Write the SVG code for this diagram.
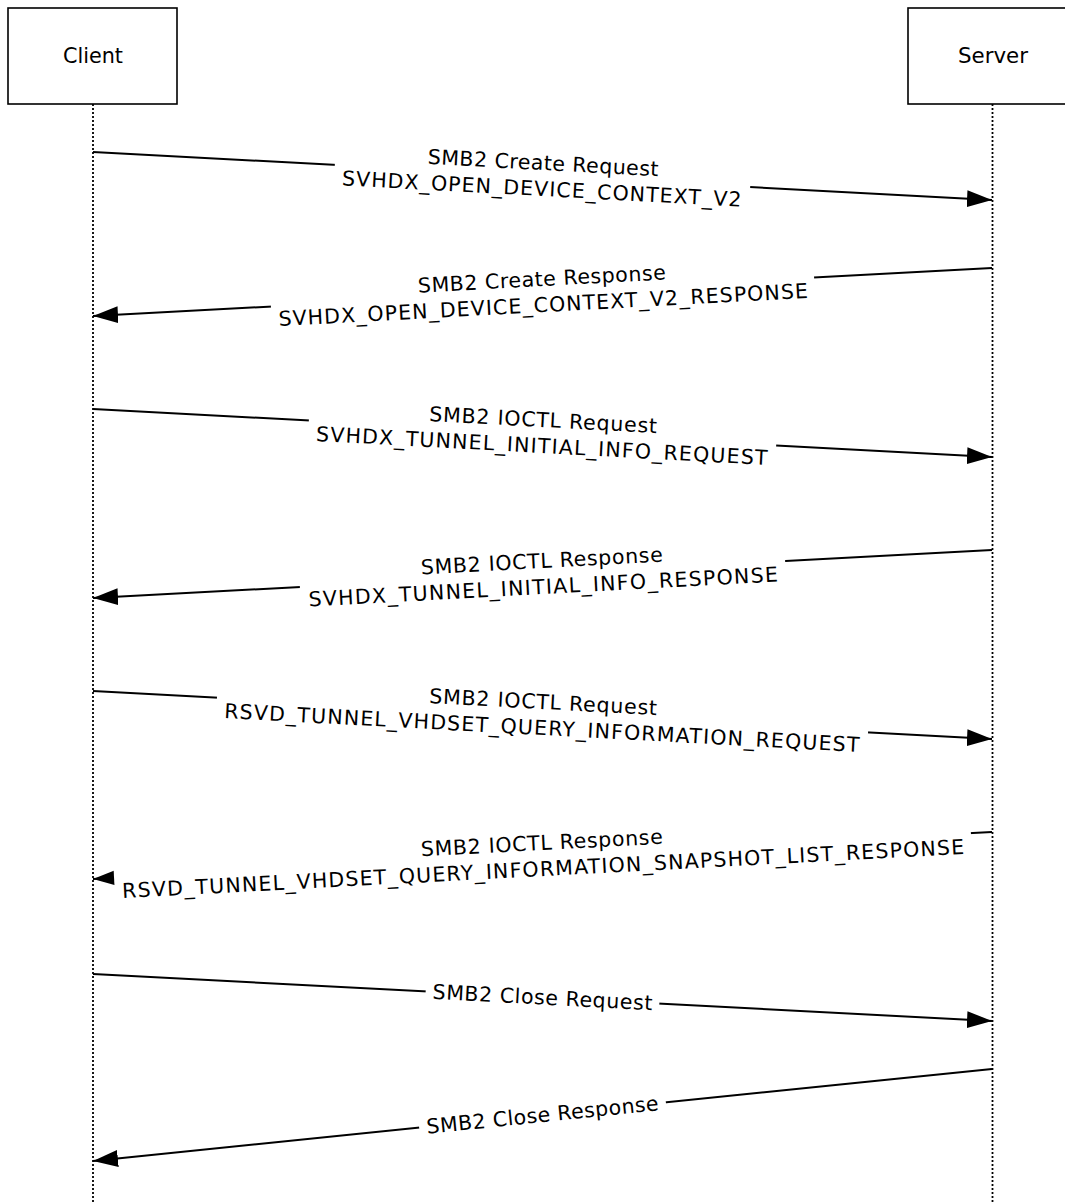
<svg xmlns="http://www.w3.org/2000/svg" width="1065" height="1203" viewBox="0 0 1065 1203">
<defs>
<style>
.box{fill:#fff;stroke:#000;stroke-width:1.6}
.life{stroke:#000;stroke-width:1.8;stroke-dasharray:2,2;fill:none}
.msg{stroke:#000;stroke-width:2;fill:none}
.t{font-family:"DejaVu Sans","Verdana",sans-serif;font-size:20.5px;fill:#000;text-anchor:middle}
.n{font-family:"DejaVu Sans","Verdana",sans-serif;font-size:21px;fill:#000;text-anchor:middle}
.bg{fill:#fff}
</style>
<marker id="ah" viewBox="0 0 25 17" refX="25" refY="8.5" markerWidth="25" markerHeight="17" markerUnits="userSpaceOnUse" orient="auto">
<path d="M0,0 L25,8.5 L0,17 Z" fill="#000"/>
</marker>
</defs>
<g id="client">
<rect class="box" x="8" y="8" width="169" height="96"/>
<text class="n" x="93" y="63" textLength="60" lengthAdjust="spacingAndGlyphs">Client</text>
</g>
<g id="server">
<rect class="box" x="908" y="8" width="170" height="96"/>
<text class="n" x="993" y="63" textLength="70" lengthAdjust="spacingAndGlyphs">Server</text>
</g>
<g id="lifelines">
<line class="life" x1="93" y1="104" x2="93" y2="1203"/>
<line class="life" x1="992.5" y1="104" x2="992.5" y2="1203"/>
</g>
<g id="connectors">
<line class="msg" x1="93" y1="152" x2="992" y2="200" marker-end="url(#ah)"/>
<line class="msg" x1="992" y1="268" x2="93" y2="316" marker-end="url(#ah)"/>
<line class="msg" x1="93" y1="409" x2="992" y2="457" marker-end="url(#ah)"/>
<line class="msg" x1="992" y1="550" x2="93" y2="598" marker-end="url(#ah)"/>
<line class="msg" x1="93" y1="691" x2="992" y2="739" marker-end="url(#ah)"/>
<line class="msg" x1="992" y1="832" x2="93" y2="879" marker-end="url(#ah)"/>
<line class="msg" x1="93" y1="974" x2="992" y2="1021" marker-end="url(#ah)"/>
<line class="msg" x1="992" y1="1069" x2="93" y2="1161" marker-end="url(#ah)"/>
</g>
<g id="labels">
<g transform="translate(542.5,176) rotate(3.06)">
<rect class="bg" x="-208" y="-23" width="416" height="48"/>
<text class="t" x="0" y="-6" textLength="231" lengthAdjust="spacing">SMB2 Create Request</text>
<text class="t" x="0" y="20" textLength="400" lengthAdjust="spacing">SVHDX_OPEN_DEVICE_CONTEXT_V2</text>
</g>
<g transform="translate(542.5,292) rotate(-3.06)">
<rect class="bg" x="-272" y="-23" width="544" height="48"/>
<text class="t" x="0" y="-6" textLength="248" lengthAdjust="spacing">SMB2 Create Response</text>
<text class="t" x="0" y="20" textLength="530" lengthAdjust="spacing">SVHDX_OPEN_DEVICE_CONTEXT_V2_RESPONSE</text>
</g>
<g transform="translate(542.5,433) rotate(3.06)">
<rect class="bg" x="-234" y="-23" width="468" height="48"/>
<text class="t" x="0" y="-6" textLength="228" lengthAdjust="spacing">SMB2 IOCTL Request</text>
<text class="t" x="0" y="20" textLength="452" lengthAdjust="spacing">SVHDX_TUNNEL_INITIAL_INFO_REQUEST</text>
</g>
<g transform="translate(542.5,574) rotate(-3.06)">
<rect class="bg" x="-243" y="-23" width="486" height="48"/>
<text class="t" x="0" y="-6" textLength="242" lengthAdjust="spacing">SMB2 IOCTL Response</text>
<text class="t" x="0" y="20" textLength="470" lengthAdjust="spacing">SVHDX_TUNNEL_INITIAL_INFO_RESPONSE</text>
</g>
<g transform="translate(542.5,715) rotate(3.06)">
<rect class="bg" x="-326" y="-23" width="652" height="48"/>
<text class="t" x="0" y="-6" textLength="228" lengthAdjust="spacing">SMB2 IOCTL Request</text>
<text class="t" x="0" y="20" textLength="636" lengthAdjust="spacing">RSVD_TUNNEL_VHDSET_QUERY_INFORMATION_REQUEST</text>
</g>
<g transform="translate(542.5,856) rotate(-3.0)">
<rect class="bg" x="-429" y="-23" width="858" height="48"/>
<text class="t" x="0" y="-6" textLength="242" lengthAdjust="spacing">SMB2 IOCTL Response</text>
<text class="t" x="0" y="20" textLength="843" lengthAdjust="spacing">RSVD_TUNNEL_VHDSET_QUERY_INFORMATION_SNAPSHOT_LIST_RESPONSE</text>
</g>
<g transform="translate(542.5,997.5) rotate(3.0)">
<rect class="bg" x="-117" y="-13" width="234" height="26"/>
<text class="t" x="0" y="7" textLength="220" lengthAdjust="spacing">SMB2 Close Request</text>
</g>
<g transform="translate(542.5,1115) rotate(-5.84)">
<rect class="bg" x="-124" y="-13" width="248" height="26"/>
<text class="t" x="0" y="7" textLength="233" lengthAdjust="spacing">SMB2 Close Response</text>
</g>
</g>
</svg>
